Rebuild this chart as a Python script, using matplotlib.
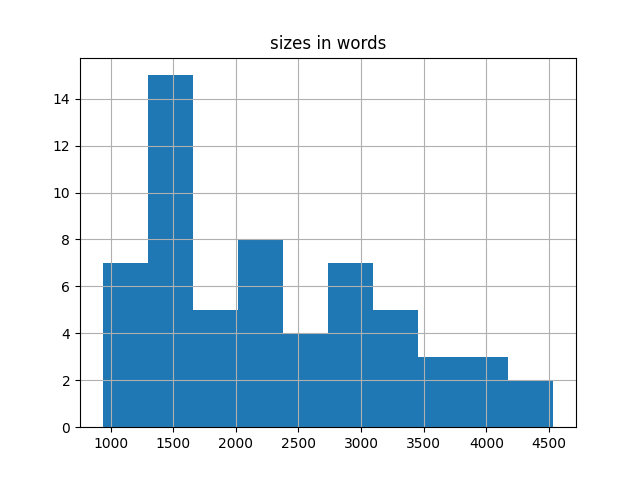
import numpy as np
import matplotlib
matplotlib.use("Agg")
import matplotlib.pyplot as plt

# bin edges and counts
bin_edges = [936, 1296, 1656, 2016, 2376, 2736, 3096, 3456, 3816, 4176, 4536]
counts = [7, 15, 5, 8, 4, 7, 5, 3, 3, 2]

centers = [(a + b) / 2 for a, b in zip(bin_edges[:-1], bin_edges[1:])]

fig, ax = plt.subplots(figsize=(6.4, 4.8), dpi=100)
ax.hist(centers, bins=bin_edges, weights=counts)
ax.set_title("sizes in words")
ax.grid(True)
fig.savefig("out.png")
